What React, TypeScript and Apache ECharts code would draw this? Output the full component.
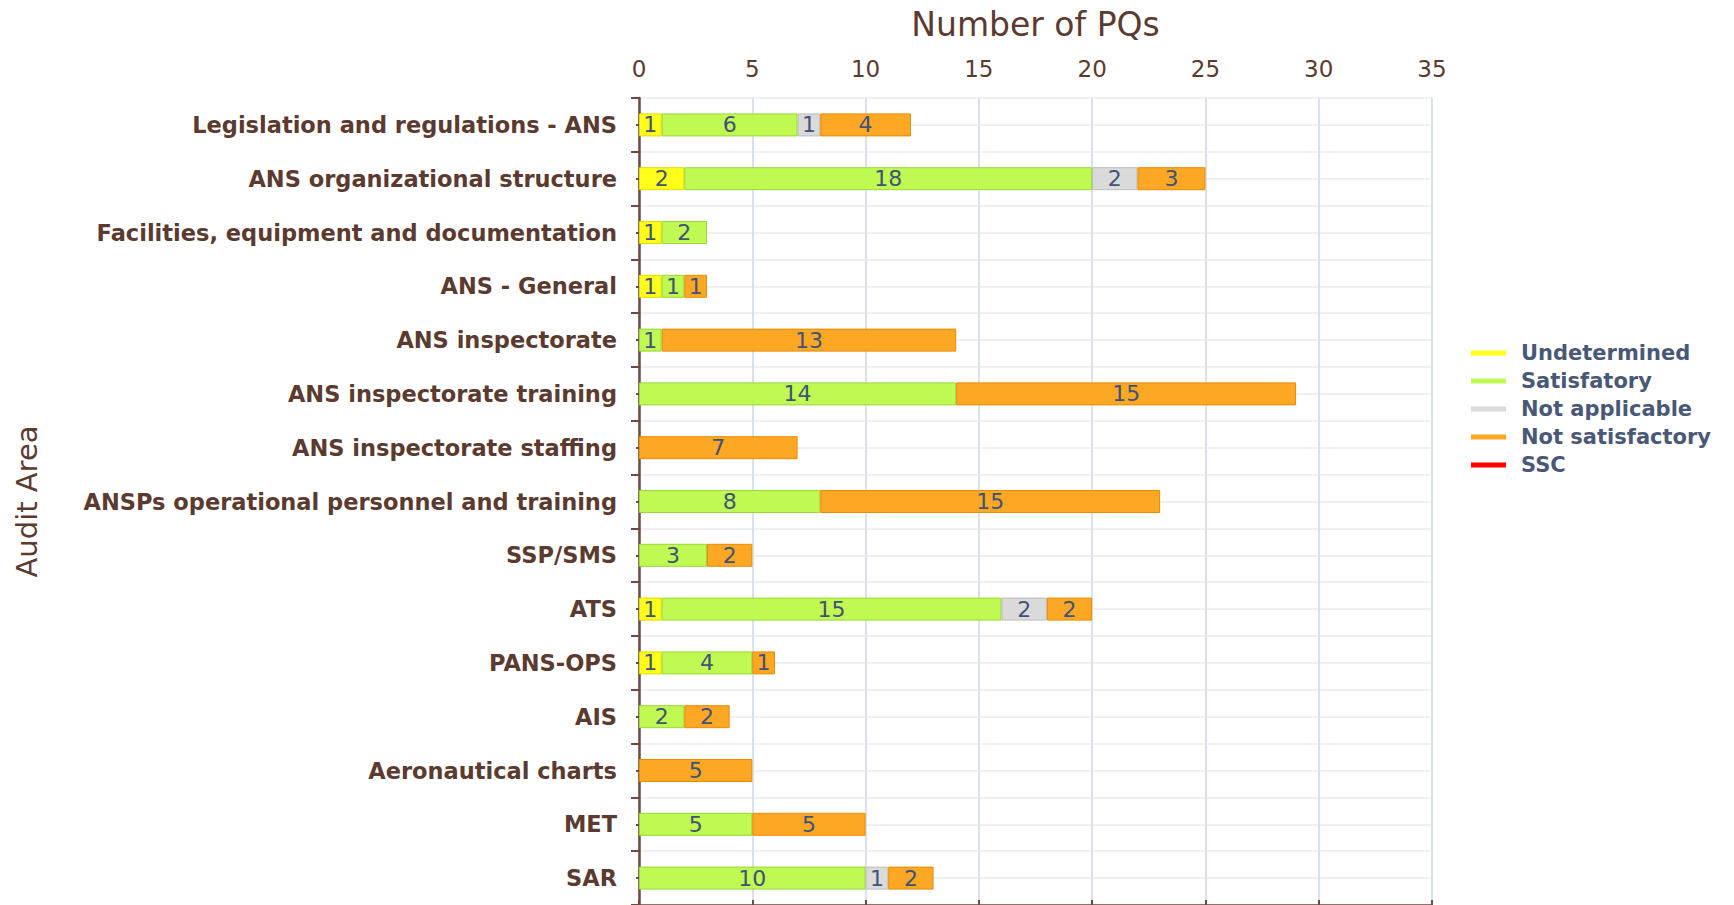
import React, { useEffect, useRef } from "react";
import * as echarts from "echarts";

const categories = [
  "Legislation and regulations - ANS",
  "ANS organizational structure",
  "Facilities, equipment and documentation",
  "ANS - General",
  "ANS inspectorate",
  "ANS inspectorate training",
  "ANS inspectorate staffing",
  "ANSPs operational personnel and training",
  "SSP/SMS",
  "ATS",
  "PANS-OPS",
  "AIS",
  "Aeronautical charts",
  "MET",
  "SAR",
];

const undetermined = [1, 2, 1, 1, 0, 0, 0, 0, 0, 1, 1, 0, 0, 0, 0];
const satisfatory = [6, 18, 2, 1, 1, 14, 0, 8, 3, 15, 4, 2, 0, 5, 10];
const notApplicable = [1, 2, 0, 0, 0, 0, 0, 0, 0, 2, 0, 0, 0, 0, 1];
const notSatisfactory = [4, 3, 0, 1, 13, 15, 7, 15, 2, 2, 1, 2, 5, 5, 2];
const ssc = [0, 0, 0, 0, 0, 0, 0, 0, 0, 0, 0, 0, 0, 0, 0];

const xTicks = { min: 0, max: 35, interval: 5 };

const BROWN = "#5b3a30";
const LABEL_BLUE = "#3f5277";

export default function App() {
  const ref = useRef<HTMLDivElement>(null);
  useEffect(() => {
    if (!ref.current) return;
    const chart = echarts.init(ref.current, null, { renderer: "svg" });
    const mk = (name: string, data: number[], color: string, border: string) => ({
      name,
      type: "bar",
      stack: "total",
      yAxisIndex: 0,
      barWidth: 23,
      data: data.map((v) => (v === 0 ? null : v)),
      itemStyle: { color, borderColor: border, borderWidth: 1 },
      label: {
        show: true,
        position: "inside",
        color: LABEL_BLUE,
        fontFamily: "DejaVu Sans",
        fontSize: 22,
        formatter: (p: any) => (p.value ? String(p.value) : ""),
      },
    });
    chart.setOption({
      animation: false,
      backgroundColor: "#ffffff",
      grid: { left: 639, right: 302, top: 98, bottom: -1, containLabel: false },
      legend: {
        orient: "vertical",
        left: 1466,
        top: 337,
        icon: "rect",
        itemWidth: 35,
        itemHeight: 5,
        itemGap: 6,
        itemStyle: { borderWidth: 0 },
        textStyle: {
          color: "#4a5878",
          fontFamily: "DejaVu Sans",
          fontWeight: "bold",
          fontSize: 21,
          lineHeight: 22,
          padding: [0, 0, 0, 10],
        },
        data: ["Undetermined", "Satisfatory", "Not applicable", "Not satisfactory", "SSC"],
      },
      xAxis: {
        type: "value",
        position: "top",
        min: xTicks.min,
        max: xTicks.max,
        interval: xTicks.interval,
        name: "Number of PQs",
        nameLocation: "middle",
        nameGap: 57,
        nameTextStyle: { color: BROWN, fontFamily: "DejaVu Sans", fontSize: 33 },
        axisLine: { show: true, lineStyle: { color: "#6e4a40", width: 2.5 } },
        axisTick: { show: true, length: 5, lineStyle: { color: "#6e4a40", width: 2 } },
        axisLabel: { color: BROWN, fontFamily: "DejaVu Sans", fontSize: 23, margin: 18 },
        splitLine: { show: true, lineStyle: { color: "#d9e2ec", width: 2 } },
      },
      yAxis: [
        {
          type: "category",
          inverse: true,
          data: categories,
          name: "Audit Area",
          nameLocation: "middle",
          nameRotate: 90,
          nameGap: 598,
          nameTextStyle: { color: BROWN, fontFamily: "DejaVu Sans", fontSize: 29 },
          axisLine: { show: true, lineStyle: { color: "#6e4a40", width: 2.5 } },
          axisTick: { show: true, length: 8, lineStyle: { color: "#6e4a40", width: 2 } },
          axisLabel: {
            color: BROWN,
            fontFamily: "DejaVu Sans",
            fontWeight: "bold",
            fontSize: 22.5,
            margin: 22,
          },
          splitLine: { show: false },
        },
        {
          type: "value",
          position: "left",
          min: 0,
          max: 30,
          interval: 1,
          axisLine: { show: false },
          axisTick: { show: true, length: 3, lineStyle: { color: "#6e4a40", width: 2 } },
          axisLabel: { show: false },
          splitLine: { show: true, lineStyle: { color: "#eef0f3", width: 2 } },
        },
      ],
      series: [
        mk("Undetermined", undetermined, "#ffff1a", "#e2d800"),
        mk("Satisfatory", satisfatory, "#c0f952", "#98d83a"),
        mk("Not applicable", notApplicable, "#dadada", "#bdbdbd"),
        mk("Not satisfactory", notSatisfactory, "#fda824", "#e58c00"),
        mk("SSC", ssc, "#ff0000", "#d00000"),
      ],
    });
    return () => chart.dispose();
  }, []);
  return (
    <div
      ref={ref}
      style={{ position: "fixed", left: 0, top: 0, width: 1734, height: 905 }}
    />
  );
}
